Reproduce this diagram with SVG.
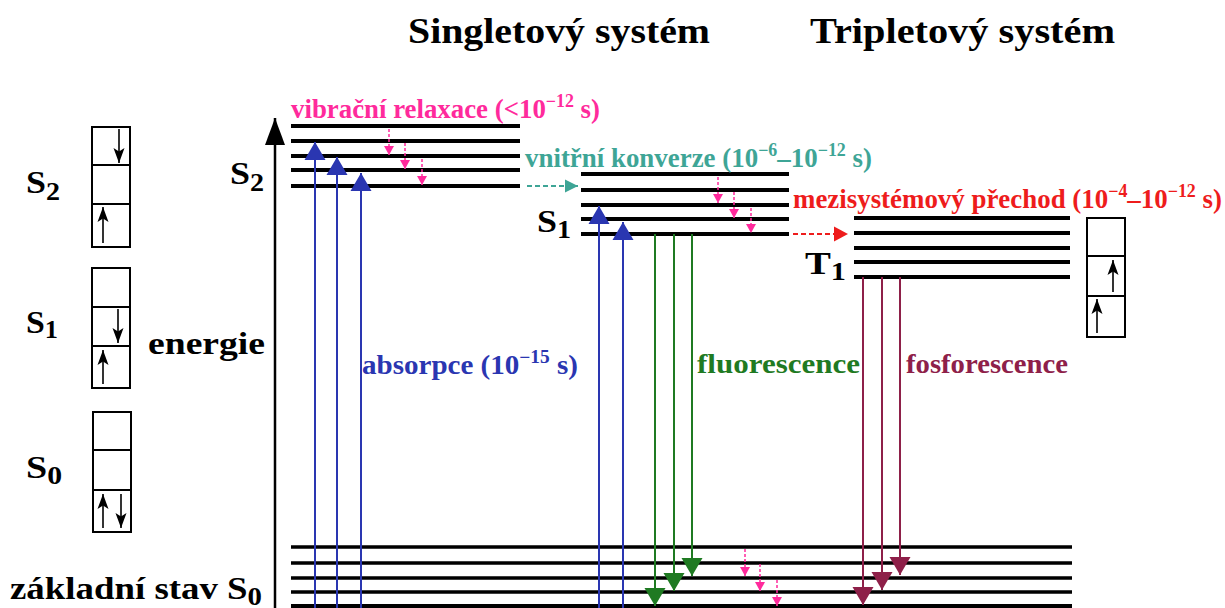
<svg xmlns="http://www.w3.org/2000/svg" width="1225" height="608" viewBox="0 0 1225 608">
  <style>
    text { font-family: "Liberation Serif", "Times New Roman", serif; font-weight: bold; }
    .title { font-size: 35px; fill: #000; }
    .lbl { font-size: 32px; fill: #000; }
    .sub { font-size: 25px; }
    .sup { font-size: 18px; }
    .proc { font-size: 27px; }
    .level { stroke: #000; stroke-width: 4; fill: none; }
    .ground { stroke: #000; stroke-width: 3.5; fill: none; }
    .box { fill: #fff; stroke: #000; stroke-width: 2; }
    .cell { stroke: #000; stroke-width: 2; }
    .spin { stroke: #000; stroke-width: 1.6; fill: none; marker-end: url(#ah-spin); }
    .abs { stroke: #2a36b1; stroke-width: 2; fill: none; marker-end: url(#ah-blue); }
    .flu { stroke: #1f7a22; stroke-width: 2; fill: none; marker-end: url(#ah-green); }
    .pho { stroke: #8e2049; stroke-width: 2; fill: none; marker-end: url(#ah-maroon); }
    .vr { stroke: #ff2a9c; stroke-width: 1.5; stroke-dasharray: 3 2; fill: none; marker-end: url(#ah-pink); }
    .ic { stroke: #3ea596; stroke-width: 2; stroke-dasharray: 5 3; fill: none; marker-end: url(#ah-teal); }
    .isc { stroke: #ee1c1c; stroke-width: 2; stroke-dasharray: 5 3; fill: none; marker-end: url(#ah-red); }
  </style>
  <defs>
    <marker id="ah-axis" markerUnits="userSpaceOnUse" orient="auto" markerWidth="28" markerHeight="22" refX="27" refY="11" viewBox="0 0 28 22"><path d="M0,1 L27,11 L0,21 z" fill="#000"/></marker>
    <marker id="ah-spin" markerUnits="userSpaceOnUse" orient="auto" markerWidth="16" markerHeight="12" refX="15" refY="6" viewBox="0 0 16 12"><path d="M0,0.5 L15,6 L0,11.5 L3.5,6 z" fill="#000"/></marker>
    <marker id="ah-blue" markerUnits="userSpaceOnUse" orient="auto" markerWidth="19" markerHeight="22" refX="18" refY="11" viewBox="0 0 19 22"><path d="M0,0.5 L18,11 L0,21.5 z" fill="#2a36b1"/></marker>
    <marker id="ah-green" markerUnits="userSpaceOnUse" orient="auto" markerWidth="19" markerHeight="22" refX="18" refY="11" viewBox="0 0 19 22"><path d="M0,0.5 L18,11 L0,21.5 z" fill="#1f7a22"/></marker>
    <marker id="ah-maroon" markerUnits="userSpaceOnUse" orient="auto" markerWidth="19" markerHeight="22" refX="18" refY="11" viewBox="0 0 19 22"><path d="M0,0.5 L18,11 L0,21.5 z" fill="#8e2049"/></marker>
    <marker id="ah-pink" markerUnits="userSpaceOnUse" orient="auto" markerWidth="10" markerHeight="12" refX="9" refY="6" viewBox="0 0 10 12"><path d="M0,1 L9,6 L0,11 z" fill="#ff2a9c"/></marker>
    <marker id="ah-teal" markerUnits="userSpaceOnUse" orient="auto" markerWidth="14" markerHeight="14" refX="13" refY="7" viewBox="0 0 14 14"><path d="M0,0.5 L13,7 L0,13.5 z" fill="#3ea596"/></marker>
    <marker id="ah-red" markerUnits="userSpaceOnUse" orient="auto" markerWidth="15" markerHeight="16" refX="14" refY="8" viewBox="0 0 15 16"><path d="M0,0.5 L14,8 L0,15.5 z" fill="#ee1c1c"/></marker>
  </defs>

  <rect width="1225" height="608" fill="#fff"/>

  <!-- headings -->
  <text class="title" x="408" y="43" textLength="302" lengthAdjust="spacingAndGlyphs">Singletový systém</text>
  <text class="title" x="810" y="43" textLength="305" lengthAdjust="spacingAndGlyphs">Tripletový systém</text>

  <!-- energy axis -->
  <g id="axis">
    <line x1="275" y1="608" x2="275" y2="118" stroke="#000" stroke-width="2.5" marker-end="url(#ah-axis)"/>
    <text class="lbl" x="148" y="354" textLength="117" lengthAdjust="spacingAndGlyphs">energie</text>
  </g>

  <!-- orbital occupation boxes -->
  <g id="box-s2">
    <text class="lbl" x="26" y="193" textLength="34" lengthAdjust="spacingAndGlyphs">S<tspan class="sub" dy="7">2</tspan></text>
    <rect class="box" x="92" y="127" width="38" height="120"/>
    <line class="cell" x1="92" y1="165" x2="130" y2="165"/>
    <line class="cell" x1="92" y1="204" x2="130" y2="204"/>
    <line class="spin" x1="119" y1="129" x2="119" y2="163"/>
    <line class="spin" x1="103" y1="243" x2="103" y2="207"/>
  </g>
  <g id="box-s1">
    <text class="lbl" x="26" y="333" textLength="32" lengthAdjust="spacingAndGlyphs">S<tspan class="sub" dy="5">1</tspan></text>
    <rect class="box" x="92" y="268" width="38" height="120"/>
    <line class="cell" x1="92" y1="307" x2="130" y2="307"/>
    <line class="cell" x1="92" y1="346" x2="130" y2="346"/>
    <line class="spin" x1="118" y1="309" x2="118" y2="343"/>
    <line class="spin" x1="103" y1="384" x2="103" y2="350"/>
  </g>
  <g id="box-s0">
    <text class="lbl" x="26" y="478" textLength="36" lengthAdjust="spacingAndGlyphs">S<tspan class="sub" dy="6">0</tspan></text>
    <rect class="box" x="93" y="412" width="38" height="120"/>
    <line class="cell" x1="93" y1="450" x2="131" y2="450"/>
    <line class="cell" x1="93" y1="490" x2="131" y2="490"/>
    <line class="spin" x1="103" y1="528" x2="103" y2="494"/>
    <line class="spin" x1="121" y1="494" x2="121" y2="528"/>
  </g>
  <g id="box-t1">
    <rect class="box" x="1087" y="218" width="38" height="119"/>
    <line class="cell" x1="1087" y1="256" x2="1125" y2="256"/>
    <line class="cell" x1="1087" y1="296" x2="1125" y2="296"/>
    <line class="spin" x1="1113" y1="292" x2="1113" y2="260"/>
    <line class="spin" x1="1097" y1="333" x2="1097" y2="299"/>
  </g>

  <!-- vibrational level ladders -->
  <g id="state-s2">
    <text class="lbl" x="230" y="184" textLength="34" lengthAdjust="spacingAndGlyphs">S<tspan class="sub" dy="7">2</tspan></text>
    <path class="level" d="M291,126 H520 M291,141 H520 M291,156 H520 M291,170 H520 M291,186 H520"/>
  </g>
  <g id="state-s1">
    <text class="lbl" x="537" y="232" textLength="34" lengthAdjust="spacingAndGlyphs">S<tspan class="sub" dy="6">1</tspan></text>
    <path class="level" d="M581,174 H789 M581,190 H789 M581,205 H789 M581,219 H789 M581,234 H789"/>
  </g>
  <g id="state-t1">
    <text class="lbl" x="805" y="274" textLength="41" lengthAdjust="spacingAndGlyphs">T<tspan class="sub" dy="6">1</tspan></text>
    <path class="level" d="M854,218 H1070 M854,233 H1070 M854,248 H1070 M854,262 H1070 M854,277 H1070"/>
  </g>
  <g id="state-s0">
    <text class="lbl" x="10" y="599" font-size="29" textLength="252" lengthAdjust="spacingAndGlyphs">základní stav S<tspan class="sub" dy="6">0</tspan></text>
    <path class="ground" d="M291,547 H1072 M291,563 H1072 M291,578 H1072 M291,592 H1072"/>
    <path class="level" d="M291,606 H1072"/>
  </g>

  <!-- process labels -->
  <g id="labels">
    <text class="proc" x="291" y="118" fill="#ff2a9c" textLength="309" lengthAdjust="spacingAndGlyphs">vibrační relaxace (&lt;10<tspan class="sup" dy="-11">−12</tspan><tspan dy="11"> s)</tspan></text>
    <text class="proc" x="525" y="167" fill="#3ea596" textLength="347" lengthAdjust="spacingAndGlyphs">vnitřní konverze (10<tspan class="sup" dy="-11">−6</tspan><tspan dy="11">–10</tspan><tspan class="sup" dy="-11">−12</tspan><tspan dy="11"> s)</tspan></text>
    <text class="proc" x="793" y="208" fill="#ee1c1c" textLength="429" lengthAdjust="spacingAndGlyphs">mezisystémový přechod (10<tspan class="sup" dy="-11">−4</tspan><tspan dy="11">–10</tspan><tspan class="sup" dy="-11">−12</tspan><tspan dy="11"> s)</tspan></text>
    <text class="proc" x="362" y="374" fill="#2a36b1" textLength="216" lengthAdjust="spacingAndGlyphs">absorpce (10<tspan class="sup" dy="-11">−15</tspan><tspan dy="11"> s)</tspan></text>
    <text class="proc" x="697" y="373" fill="#1f7a22" textLength="163" lengthAdjust="spacingAndGlyphs">fluorescence</text>
    <text class="proc" x="906" y="373" fill="#8e2049" textLength="162" lengthAdjust="spacingAndGlyphs">fosforescence</text>
  </g>

  <!-- transitions -->
  <g id="connectors">
    <!-- absorption -->
    <line class="abs" x1="315" y1="608" x2="315" y2="142"/>
    <line class="abs" x1="337" y1="608" x2="337" y2="157"/>
    <line class="abs" x1="361" y1="608" x2="361" y2="173"/>
    <line class="abs" x1="599" y1="608" x2="599" y2="206"/>
    <line class="abs" x1="623" y1="608" x2="623" y2="222"/>
    <!-- fluorescence -->
    <line class="flu" x1="655" y1="234" x2="655" y2="606"/>
    <line class="flu" x1="674" y1="234" x2="674" y2="591"/>
    <line class="flu" x1="692" y1="234" x2="692" y2="576"/>
    <!-- phosphorescence -->
    <line class="pho" x1="863" y1="277" x2="863" y2="605"/>
    <line class="pho" x1="882" y1="277" x2="882" y2="590"/>
    <line class="pho" x1="900" y1="277" x2="900" y2="575"/>
    <!-- vibrational relaxation -->
    <line class="vr" x1="389" y1="129" x2="389" y2="155"/>
    <line class="vr" x1="405" y1="143" x2="405" y2="169"/>
    <line class="vr" x1="422" y1="159" x2="422" y2="185"/>
    <line class="vr" x1="718" y1="177" x2="718" y2="203"/>
    <line class="vr" x1="734" y1="192" x2="734" y2="218"/>
    <line class="vr" x1="751" y1="208" x2="751" y2="233"/>
    <line class="vr" x1="745" y1="549" x2="745" y2="576"/>
    <line class="vr" x1="760" y1="564" x2="760" y2="591"/>
    <line class="vr" x1="777" y1="580" x2="777" y2="606"/>
    <!-- internal conversion -->
    <line class="ic" x1="527" y1="186" x2="578" y2="186"/>
    <!-- intersystem crossing -->
    <line class="isc" x1="793" y1="234" x2="848" y2="234"/>
  </g>
</svg>
